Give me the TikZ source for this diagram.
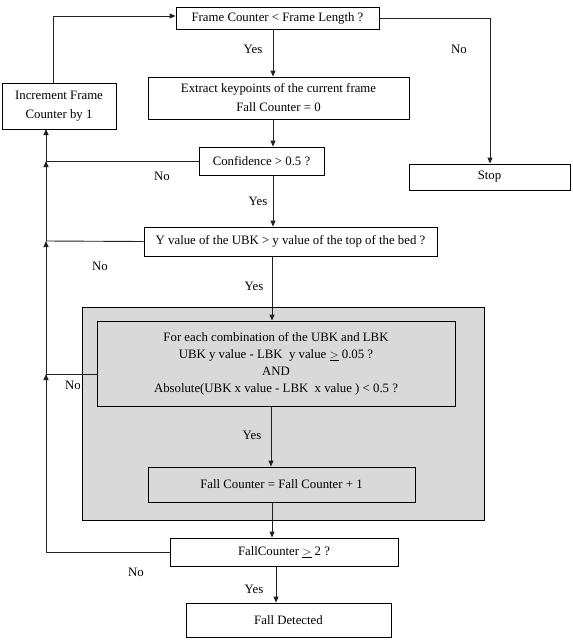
\documentclass[tikz,border=0pt]{standalone}
\usepackage{fontspec}
\setmainfont{Liberation Serif}
\usetikzlibrary{arrows.meta}
\definecolor{panel}{HTML}{D9D9D9}
\definecolor{wire}{HTML}{222222}
\tikzset{
  box/.style={draw=black, line width=0.8pt, fill=white, inner sep=0pt, align=center, font=\fontsize{12.8}{19}\selectfont},
  graybox/.style={box, fill=panel},
  wireline/.style={draw=wire, line width=0.9pt},
  arr/.style={wireline, -{Triangle[length=6pt,width=5pt]}},
  lbl/.style={font=\fontsize{12.8}{14}\selectfont, inner sep=0pt}
}
\begin{document}
\begin{tikzpicture}[x=1pt,y=-1pt]
\useasboundingbox (0,0) rectangle (573,641);
% group panel
\node[graybox, minimum width=402pt, minimum height=213pt] (grp) at (283,413.5) {};
% boxes
\node[box, minimum width=203pt, minimum height=22pt] (fcl) at (277.5,18) {Frame Counter < Frame Length ?};
\node[box, minimum width=261pt, minimum height=42pt] (ext) at (278.5,98) {Extract keypoints of the current frame\\Fall Counter = 0};
\node[box, minimum width=114pt, minimum height=46pt] (inc) at (59,106) {Increment Frame\\Counter by 1};
\node[box, minimum width=125pt, minimum height=28pt] (conf) at (261.5,161) {Confidence > 0.5 ?};
\node[box, minimum width=161pt, minimum height=26pt] (stop) at (489.5,177) {Stop};
\node[box, minimum width=293pt, minimum height=29pt] (yv) at (290.5,241.5) {Y value of the UBK > y value of the top of the bed ?};
\node[graybox, minimum width=358pt, minimum height=85pt, font=\fontsize{12.8}{17}\selectfont] (comb) at (276,363.5) {For each combination of the UBK and LBK\\UBK y value - LBK\ \ y value $\underline{>}$ 0.05 ?\\AND\\Absolute(UBK x value - LBK\ \ x value ) < 0.5 ?};
\node[graybox, minimum width=267pt, minimum height=35pt] (inc2) at (281.5,484.5) {Fall Counter = Fall Counter + 1};
\node[box, minimum width=228pt, minimum height=28pt] (chk) at (284,552) {FallCounter $\underline{>}$ 2 ?};
\node[box, minimum width=205pt, minimum height=34pt] (det) at (288.5,620) {Fall Detected};
% coordinates
\coordinate (topl) at (53,16);
\coordinate (topr) at (490,18);
\coordinate (j1) at (46,161);
\coordinate (j2) at (46,241);
\coordinate (j3) at (46,374);
\coordinate (j4) at (46,552);
\coordinate (incb) at (46,129);
% main flow
\draw[arr] (fcl.south -| 273,0) -- (ext.north -| 273,0);
\draw[arr] (ext.south -| 273,0) -- (conf.north -| 273,0);
\draw[arr] (conf.south -| 273,0) -- (yv.north -| 273,0);
\draw[arr] (yv.south -| 272,0) -- (comb.north -| 272,0);
\draw[arr] (comb.south -| 271,0) -- (inc2.north -| 271,0);
\draw[arr] (inc2.south -| 272,0) -- (chk.north -| 272,0);
\draw[arr] (chk.south -| 276,0) -- (det.north -| 276,0);
% stop branch
\draw[arr] (fcl.east) -- (topr) -- (stop.north -| topr);
% loop back
\draw[arr] (inc.north -| topl) -- (topl) -- (fcl.west |- topl);
\draw[wireline] (chk.west) -- (j4);
\draw[wireline] (comb.west |- j3) -- (j3);
\draw[wireline] (yv.west) -- (j2);
\draw[wireline] (conf.west) -- (j1);
\draw[arr] (j4) -- (j3);
\draw[arr] (j3) -- (j2);
\draw[arr] (j2) -- (j1);
\draw[arr] (j1) -- (incb);
% labels
\node[lbl] (l1) at (253,49) {Yes};
\node[lbl] (l2) at (459,49) {No};
\node[lbl] (l3) at (162,176) {No};
\node[lbl] (l4) at (258,201) {Yes};
\node[lbl] (l5) at (100,266) {No};
\node[lbl] (l6) at (254,286) {Yes};
\node[lbl] (l7) at (73,385) {No};
\node[lbl] (l8) at (252,435) {Yes};
\node[lbl] (l9) at (136,572) {No};
\node[lbl] (l10) at (254,589) {Yes};
\end{tikzpicture}
\end{document}
